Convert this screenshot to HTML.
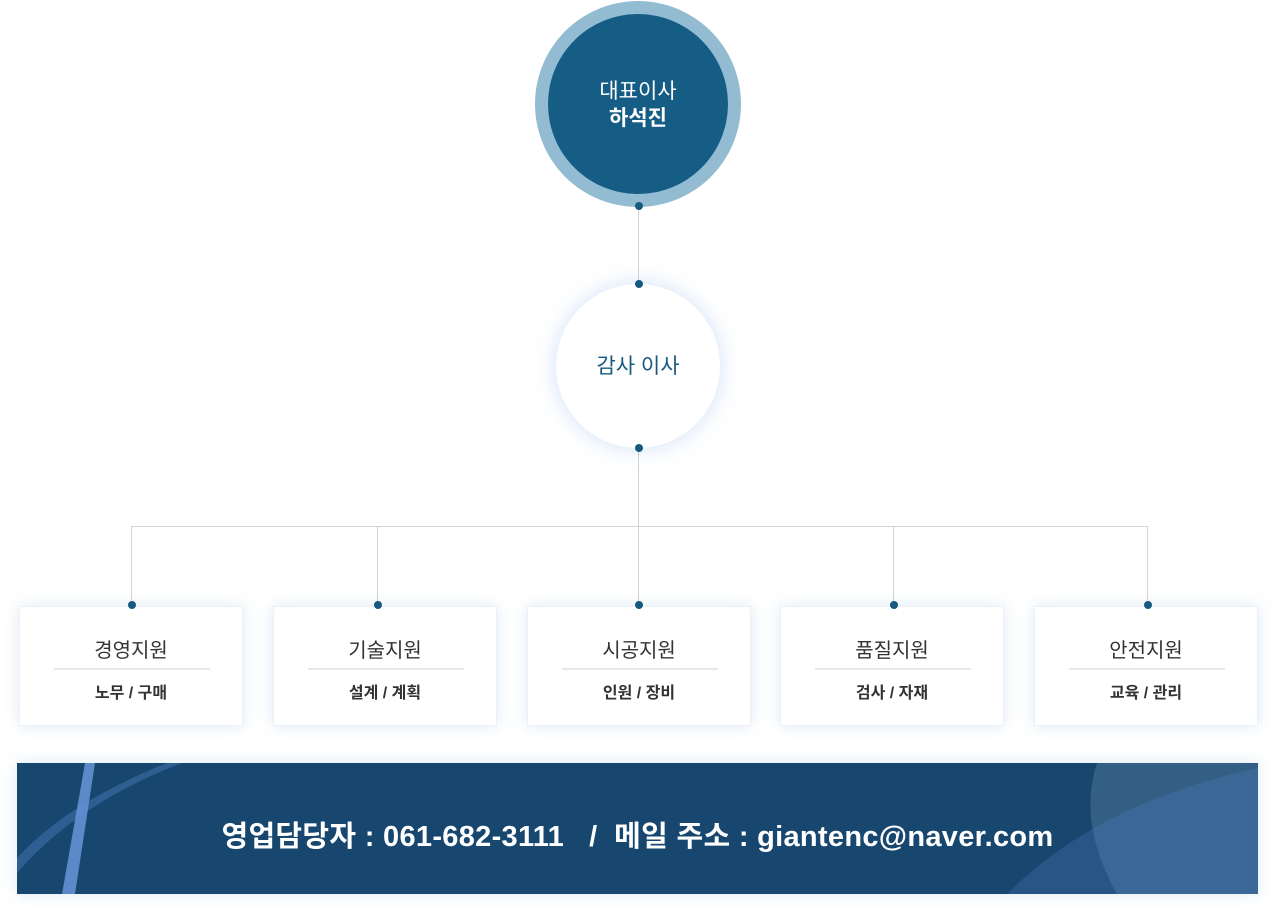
<!DOCTYPE html>
<html><head><meta charset="utf-8"><style>
body{margin:0;width:1277px;height:912px;background:#fff;position:relative;overflow:hidden;font-family:"Liberation Sans","Noto Sans CJK KR",sans-serif;}
.a{position:absolute}
.dot{position:absolute;width:8px;height:8px;border-radius:50%;background:#165a80;}
.box{position:absolute;top:606px;width:224px;height:120px;background:#fff;border:1px solid #eef0f3;box-shadow:0 0 14px rgba(120,170,220,.25);text-align:center;box-sizing:border-box}
.box .t{position:absolute;left:0;right:0;top:27px;font-size:20px;color:#333;}
.box .l{position:absolute;left:34px;width:156px;height:2px;background:#e8e8e8;top:61px}
.box .s{position:absolute;left:0;right:0;top:72px;font-size:16px;color:#333;font-weight:bold}
</style></head><body>
<div class="a" style="left:535px;top:1px;width:206px;height:206px;border-radius:50%;background:#93bcd3"></div>
<div class="a" style="left:548px;top:14px;width:180px;height:180px;border-radius:50%;background:#165d85;color:#fff;text-align:center;font-size:21px;line-height:27px;box-sizing:border-box;padding-top:64px">대표이사<br><b>하석진</b></div>
<div class="a" style="left:638px;top:206px;width:1px;height:320px;background:#d4d4d4"></div>
<div class="a" style="left:131px;top:526px;width:1017px;height:1px;background:#d4d4d4"></div>
<div class="a" style="left:131px;top:526px;width:1px;height:80px;background:#d4d4d4"></div>
<div class="a" style="left:377px;top:526px;width:1px;height:80px;background:#d4d4d4"></div>
<div class="a" style="left:638px;top:526px;width:1px;height:80px;background:#d4d4d4"></div>
<div class="a" style="left:893px;top:526px;width:1px;height:80px;background:#d4d4d4"></div>
<div class="a" style="left:1147px;top:526px;width:1px;height:80px;background:#d4d4d4"></div>
<div class="a" style="left:556px;top:284px;width:164px;height:164px;border-radius:50%;background:#fff;box-shadow:0 0 22px rgba(120,170,230,.35);text-align:center;line-height:166px;font-size:21px;color:#165a80">감사 이사</div>
<div class="dot" style="left:635px;top:202px"></div>
<div class="dot" style="left:635px;top:280px"></div>
<div class="dot" style="left:635px;top:444px"></div>
<div class="box" style="left:19px"><div class="t">경영지원</div><div class="l"></div><div class="s">노무 / 구매</div></div>
<div class="box" style="left:273px"><div class="t">기술지원</div><div class="l"></div><div class="s">설계 / 계획</div></div>
<div class="box" style="left:527px"><div class="t">시공지원</div><div class="l"></div><div class="s">인원 / 장비</div></div>
<div class="box" style="left:780px"><div class="t">품질지원</div><div class="l"></div><div class="s">검사 / 자재</div></div>
<div class="box" style="left:1034px"><div class="t">안전지원</div><div class="l"></div><div class="s">교육 / 관리</div></div>
<div class="dot" style="left:128px;top:601px"></div>
<div class="dot" style="left:374px;top:601px"></div>
<div class="dot" style="left:635px;top:601px"></div>
<div class="dot" style="left:890px;top:601px"></div>
<div class="dot" style="left:1144px;top:601px"></div>
<div class="a" style="left:17px;top:763px;width:1241px;height:131px;background:#17466e;overflow:hidden;box-shadow:0 0 14px rgba(120,170,220,.25)">
<svg width="1241" height="131" style="position:absolute;left:0;top:0">
<path d="M45 131 L68 0 L78 0 L58 131Z" fill="#7aa6f0" opacity=".7"/>
<path d="M0 110 Q60 40 165 0 L150 0 Q50 40 0 95Z" fill="#5d8bd8" opacity=".35"/>
<path d="M1080 0 L1241 0 L1241 131 L1100 131 Q1060 60 1080 0Z" fill="#6a8fb0" opacity=".35"/>
<path d="M990 131 Q1080 40 1241 5 L1241 131Z" fill="#4d7cc0" opacity=".3"/>
</svg>
<div class="a" style="left:0;width:1241px;top:50px;text-align:center;color:#fff;font-weight:bold;font-size:29px;letter-spacing:0.3px;word-spacing:0px">영업담당자 : 061-682-3111 &nbsp; / &nbsp;메일 주소 : giantenc@naver.com</div>
</div>
</body></html>
